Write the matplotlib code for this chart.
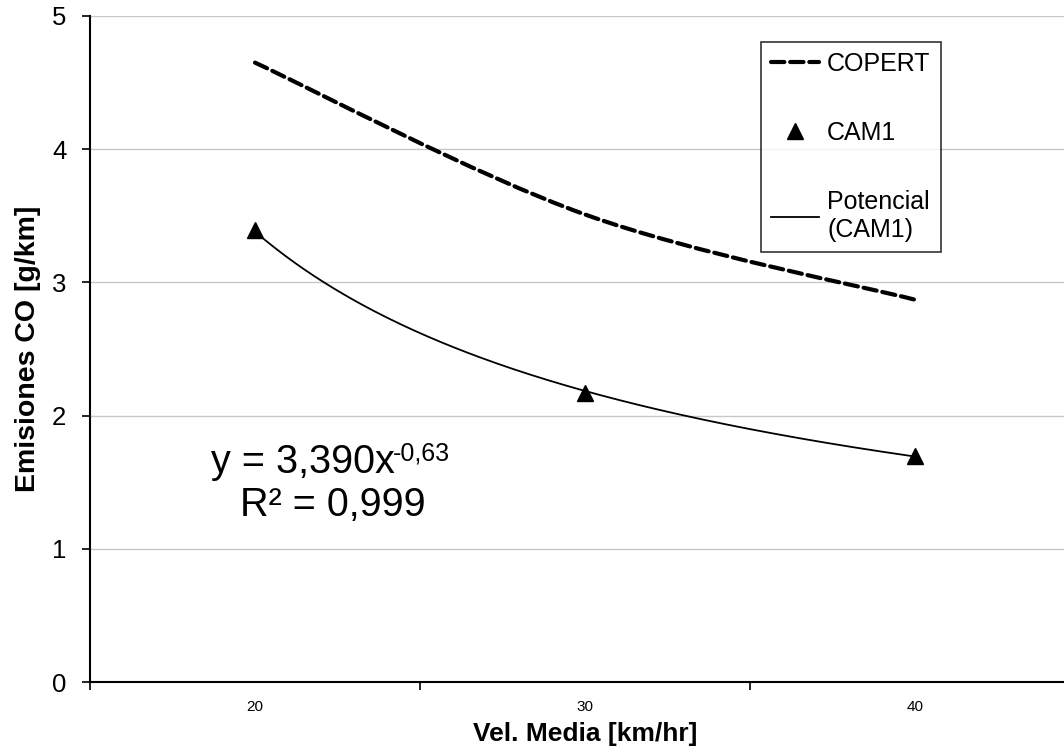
import numpy as np
import matplotlib.pyplot as plt
from matplotlib.path import Path
from matplotlib.patches import PathPatch
from matplotlib.lines import Line2D

plt.rcParams['font.family'] = ['Liberation Sans', 'DejaVu Sans']

# Data
velocidades = ['20', '30', '40']
copert = [4.65, 3.51, 2.87]
cam1 = [3.39, 2.17, 1.70]

x = np.arange(1, len(velocidades) + 1)

fig = plt.figure(figsize=(10.64, 7.49), dpi=100)
ax = fig.add_axes([90/1064, 67/749, 990/1064, 666/749])

dash = (0, (3.2, 1.4))

# COPERT: smoothed line (Catmull-Rom -> cubic Bezier)
pts = np.column_stack([x, copert]).astype(float)
ext = np.vstack([pts[0], pts, pts[-1]])
verts = [tuple(pts[0])]
codes = [Path.MOVETO]
for i in range(1, len(ext) - 2):
    p0, p1, p2, p3 = ext[i-1], ext[i], ext[i+1], ext[i+2]
    c1 = p1 + (p2 - p0) / 6
    c2 = p2 - (p3 - p1) / 6
    verts += [tuple(c1), tuple(c2), tuple(p2)]
    codes += [Path.CURVE4, Path.CURVE4, Path.CURVE4]
ax.add_patch(PathPatch(Path(verts, codes), fill=False, edgecolor='black',
                       lw=3, linestyle=dash, capstyle='round', zorder=3))

# CAM1 points
ax.plot(x, cam1, linestyle='none', marker='^', color='black', markersize=11, zorder=4)

# Power trend line (fit in log space)
b, loga = np.polyfit(np.log(x), np.log(cam1), 1)
a = np.exp(loga)
xf = np.linspace(1, 3, 200)
ax.plot(xf, a * xf ** b, color='black', lw=1.3, zorder=3)

# Equation label
t1 = ax.text(0.5 + (211 - 90) / 330, (682 - 462) / 133.2, 'y = 3,390x',
             fontsize=28.5, ha='left', va='center')
ax.annotate('-0,63', xy=(1, 1), xycoords=t1, xytext=(-1.5, 1),
            textcoords='offset points', fontsize=18, ha='left', va='top')
ax.text(0.5 + (333 - 90) / 330, (682 - 505) / 133.2, 'R² = 0,999',
        fontsize=28.5, ha='center', va='center')

# Axes
ax.set_xlim(0.5, 3.5)
ax.set_ylim(0, 5)
ax.set_xticks(x)
ax.set_xticklabels(velocidades, fontsize=11)
ax.set_xticks([0.5, 1.5, 2.5, 3.5], minor=True)
ax.tick_params(axis='x', which='major', length=0, pad=13)
ax.tick_params(axis='x', which='minor', length=6, width=1.2, direction='out')
ax.set_yticks(range(0, 6))
ax.tick_params(axis='y', length=6, width=1.2, direction='out', labelsize=18.5, pad=11)
ax.yaxis.grid(True, color='#c8c8c8', lw=1)
ax.set_axisbelow(True)
for s in ['top', 'right']:
    ax.spines[s].set_visible(False)
ax.spines['left'].set_linewidth(1.5)
ax.spines['bottom'].set_linewidth(1.5)

ax.set_xlabel('Vel. Media [km/hr]', fontsize=19, fontweight='bold', labelpad=6)
ax.set_ylabel('Emisiones CO [g/km]', fontsize=20.5, fontweight='bold', labelpad=8)

handles = [
    Line2D([], [], color='black', lw=3, linestyle=dash, dash_capstyle='round'),
    Line2D([], [], color='black', linestyle='none', marker='^', markersize=11),
    Line2D([], [], color='black', lw=1.3),
]
leg = fig.legend(handles, ['COPERT', 'CAM1', 'Potencial\n(CAM1)'],
                 loc='upper left', bbox_to_anchor=(761/1064, 1 - 42/749),
                 fontsize=18, frameon=True, fancybox=False, edgecolor='black',
                 labelspacing=1.8, handlelength=1.9, handletextpad=0.35,
                 borderpad=0.4, borderaxespad=0)
leg.get_frame().set_linewidth(1.2)

fig.savefig('out.png', dpi=100)
